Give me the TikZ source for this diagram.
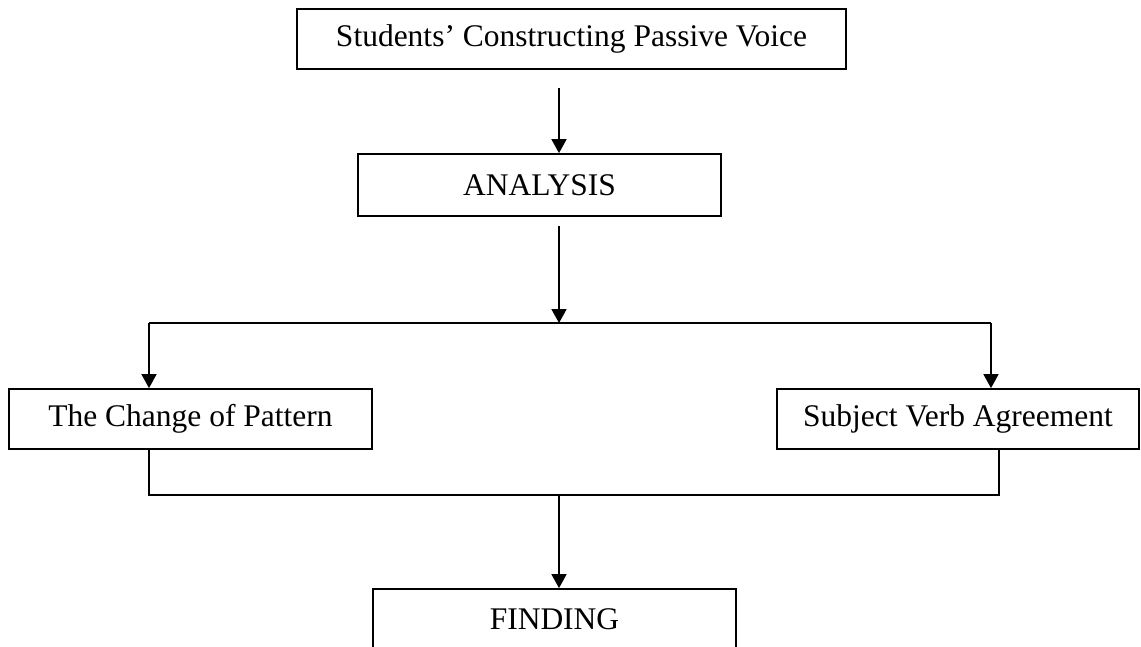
\documentclass[tikz,border=0pt]{standalone}
\usepackage{fontspec}
\setmainfont{Liberation Serif}
\usetikzlibrary{arrows.meta}
\begin{document}
\begin{tikzpicture}[x=1pt,y=-1pt,
  box/.style={draw, line width=1.8pt, inner sep=0pt, align=center,
    font=\fontsize{31.5}{38}\selectfont},
  conn/.style={line width=1.8pt},
  arr/.style={conn, -{Triangle[length=14pt,width=15pt]}}]
\useasboundingbox[fill=white] (0,0) rectangle (1141,646);
\node[box, minimum width=549pt, minimum height=60pt] (top) at (571.5,39) {Students’ Constructing Passive Voice};
\node[box, minimum width=363pt, minimum height=62pt] (ana) at (539.5,185) {ANALYSIS};
\node[box, minimum width=363pt, minimum height=60pt] (lbox) at (190.5,419) {The Change of Pattern};
\node[box, minimum width=362pt, minimum height=60pt] (rbox) at (958,419) {Subject Verb Agreement};
\node[box, minimum width=363pt, minimum height=61pt] (find) at (554.5,619.5) {FINDING};
\coordinate (s1) at (559,88);
\coordinate (s2) at (559,226);
\coordinate (j) at (559,323);
\coordinate (jl) at (149,323);
\coordinate (jr) at (991,323);
\coordinate (kl) at (149,495);
\coordinate (kr) at (999,495);
\coordinate (k) at (559,495);
\draw[arr] (s1) -- (s1 |- ana.north);
\draw[arr] (s2) -- (j);
\draw[conn] (jl) -- (jr);
\draw[arr] (jl) -- (jl |- lbox.north);
\draw[arr] (jr) -- (jr |- rbox.north);
\draw[conn] (kl |- lbox.south) -- (kl) -- (kr) -- (kr |- rbox.south);
\draw[arr] (k) -- (k |- find.north);
\end{tikzpicture}
\end{document}
